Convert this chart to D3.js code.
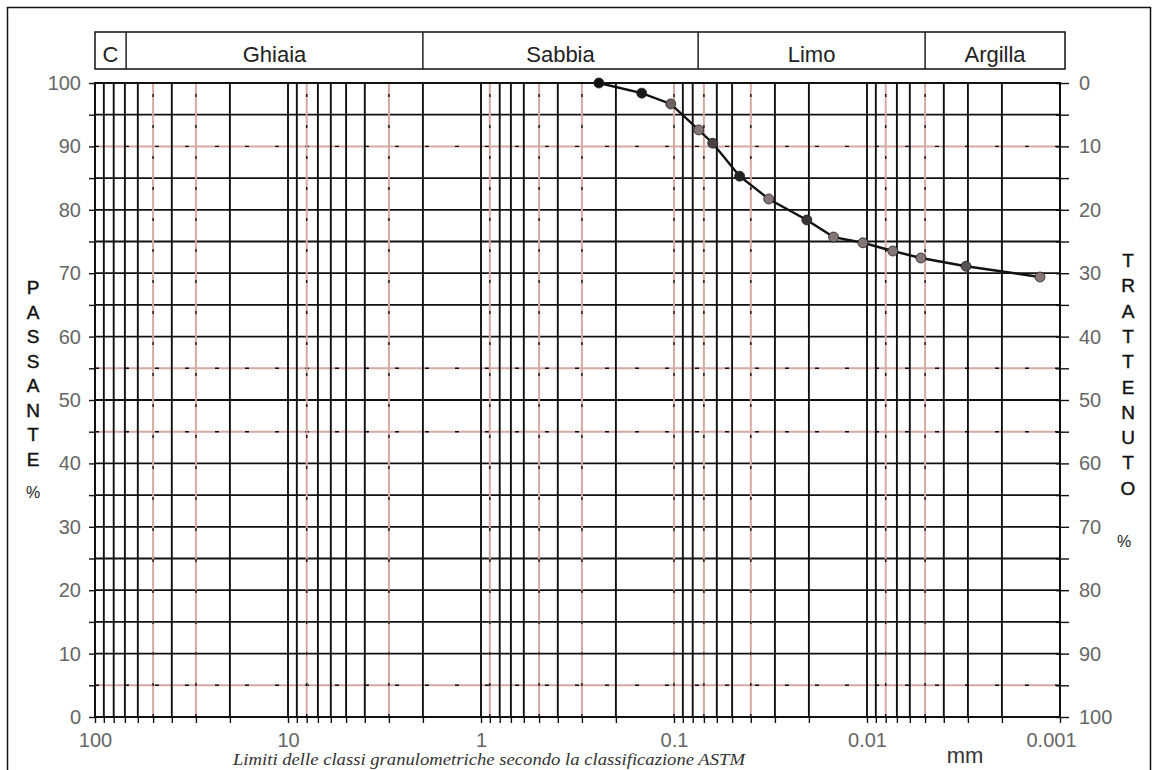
<!DOCTYPE html>
<html><head><meta charset="utf-8">
<script src="https://cdn.jsdelivr.net/npm/d3@7"></script>
<style>
body{margin:0;background:#fff}
svg{display:block}
text{font-family:"Liberation Sans",Arial,sans-serif}
</style>
</head><body>
<svg id="c" width="1154" height="770"></svg>
<script>
// ---- data ----
const diameters = [0.245, 0.147, 0.104, 0.0745, 0.063, 0.0457, 0.0323, 0.0205, 0.0149, 0.0105, 0.00735, 0.00526, 0.00307, 0.00127];
const passing   = [100, 98.4, 96.7, 92.6, 90.5, 85.3, 81.7, 78.4, 75.7, 74.8, 73.5, 72.4, 71.1, 69.4];
const xTickValues = [100, 10, 1, 0.1, 0.01, 0.001];
const xTickLabels = ["100", "10", "1", "0.1", "0.01", "0.001"];
const yTickValues = [0, 10, 20, 30, 40, 50, 60, 70, 80, 90, 100];
const classNames  = ["C", "Ghiaia", "Sabbia", "Limo", "Argilla"];
const classBounds = [100, 69, 2, 0.075, 0.005, 0.001];
const redGridX = [50, 30, 8, 3, 0.9, 0.5, 0.3, 0.1, 0.07, 0.04, 0.008, 0.005, 0.0025];
const redGridY = [90, 55, 45, 5];
const leftTitle  = "PASSANTE";
const rightTitle = "TRATTENUTO";
const caption = "Limiti delle classi granulometriche secondo la classificazione ASTM";
const markerFills = ["#111","#1a1a1a","#6f6262","#857575","#4a4040","#222","#857575","#3a3333","#857575","#857575","#857575","#857575","#5a5050","#857575"];

// ---- chart ----
const svg = d3.select("#c");
const x = d3.scaleLog().domain([100, 0.001]).range([95, 1060]);
const y = d3.scaleLinear().domain([0, 100]).range([717, 83]);
const yR = d3.scaleLinear().domain([0, 100]).range([83, 717]);
const ink = "#111";
const redInk = "#d6aaa3";

// outer frame
svg.append("rect").attr("x", 7.5).attr("y", 7.5).attr("width", 1143).attr("height", 820)
  .attr("fill", "none").attr("stroke", ink).attr("stroke-width", 1.5);

// grid values (log minor grid)
const gridVals = [];
for (let e = 1; e >= -3; e--) for (let m = 1; m <= 9; m++) gridVals.push(+(m * Math.pow(10, e)).toPrecision(3));
const isRed = v => redGridX.some(r => Math.abs(Math.log10(r) - Math.log10(v)) < 1e-6);
const inner = gridVals.filter(v => v < 100 && v > 0.001);

const g = svg.append("g");
// horizontal grid
const hVals = d3.range(5, 100, 5);
g.selectAll("line.h").data(hVals).join("line")
  .attr("x1", x(100)).attr("x2", x(0.001))
  .attr("y1", d => y(d)).attr("y2", d => y(d))
  .attr("stroke", d => redGridY.includes(d) ? redInk : ink)
  .attr("stroke-width", d => redGridY.includes(d) ? 2 : 1.8);
g.selectAll("line.hd").data(hVals.filter(d => redGridY.includes(d))).join("line")
  .attr("x1", x(100)).attr("x2", x(0.001))
  .attr("y1", d => y(d)).attr("y2", d => y(d))
  .attr("stroke", ink).attr("stroke-width", 1.4).attr("stroke-dasharray", "4,26");

// vertical grid
g.selectAll("line.v").data(inner).join("line")
  .attr("x1", d => x(d)).attr("x2", d => x(d))
  .attr("y1", y(0)).attr("y2", y(100))
  .attr("stroke", d => isRed(d) ? redInk : ink)
  .attr("stroke-width", d => isRed(d) ? 2 : 1.9);
g.selectAll("line.vd").data(inner.filter(isRed)).join("line")
  .attr("x1", d => x(d)).attr("x2", d => x(d))
  .attr("y1", y(0)).attr("y2", y(100))
  .attr("stroke", ink).attr("stroke-width", 1.4).attr("stroke-dasharray", "3,28");

// plot border
svg.append("rect").attr("x", x(100)).attr("y", y(100))
  .attr("width", x(0.001) - x(100)).attr("height", y(0) - y(100))
  .attr("fill", "none").attr("stroke", ink).attr("stroke-width", 2);

// left axis
const la = svg.append("g").attr("transform", `translate(${x(100)},0)`)
  .call(d3.axisLeft(y).tickValues(d3.range(0, 101, 5)).tickSize(6).tickPadding(8)
    .tickFormat(d => yTickValues.includes(d) ? d : ""));
la.select(".domain").remove();
la.selectAll("line").attr("stroke", ink).attr("stroke-width", 1.4);
la.selectAll("text").attr("font-size", 20).attr("fill", "#666").style("font-family", "Liberation Sans, Arial");

// right axis
const ra = svg.append("g").attr("transform", `translate(${x(0.001)},0)`)
  .call(d3.axisRight(yR).tickValues(d3.range(0, 101, 5)).tickSize(9).tickPadding(10)
    .tickFormat(d => yTickValues.includes(d) ? d : ""));
ra.select(".domain").remove();
ra.selectAll("line").attr("x1", -4).attr("stroke", ink).attr("stroke-width", 1.4);
ra.selectAll("text").attr("font-size", 20).attr("fill", "#666").style("font-family", "Liberation Sans, Arial");

// bottom axis
const labelOf = d => { const i = xTickValues.findIndex(v => Math.abs(Math.log10(v) - Math.log10(d)) < 1e-6); return i >= 0 ? xTickLabels[i] : ""; };
const ba = svg.append("g").attr("transform", `translate(0,${y(0)})`)
  .call(d3.axisBottom(x).tickValues(gridVals.filter(v => v <= 100 && v >= 0.001).concat([100])).tickSize(6).tickPadding(10)
    .tickFormat(labelOf));
ba.select(".domain").remove();
ba.selectAll("line").attr("stroke", ink).attr("stroke-width", 1.4);
ba.selectAll("text").attr("font-size", 20).attr("fill", "#666").style("font-family", "Liberation Sans, Arial")
  .attr("dx", d => d === 0.001 ? -9 : 0);

// curve
const pts = diameters.map((d, i) => [d, passing[i]]);
svg.append("path").datum(pts)
  .attr("d", d3.line().x(d => x(d[0])).y(d => y(d[1])))
  .attr("fill", "none").attr("stroke", ink).attr("stroke-width", 2.4);
svg.selectAll("circle.m").data(pts).join("circle")
  .attr("cx", d => x(d[0])).attr("cy", d => y(d[1])).attr("r", 5)
  .attr("fill", (d, i) => markerFills[i]).attr("stroke", "#222").attr("stroke-width", 0.8);

// header band
const hb = svg.append("g");
const hx0 = x(100), hx1 = x(0.001) + 5, hy0 = 32, hy1 = 69;
hb.append("rect").attr("x", hx0).attr("y", hy0).attr("width", hx1 - hx0).attr("height", hy1 - hy0)
  .attr("fill", "#fff").attr("stroke", ink).attr("stroke-width", 1.5);
const cells = classNames.map((n, i) => ({ n, a: x(classBounds[i]), b: i === classNames.length - 1 ? hx1 : x(classBounds[i + 1]) }));
hb.selectAll("line.div").data(cells.slice(1)).join("line")
  .attr("x1", d => d.a).attr("x2", d => d.a).attr("y1", hy0).attr("y2", hy1)
  .attr("stroke", ink).attr("stroke-width", 1.4);
hb.selectAll("text").data(cells).join("text")
  .attr("x", d => (d.a + d.b) / 2).attr("y", 62).attr("text-anchor", "middle")
  .attr("font-size", 22).attr("fill", "#222").text(d => d.n);

// vertical titles
svg.selectAll("text.lt").data(leftTitle.split("")).join("text")
  .attr("x", 33).attr("y", (d, i) => 294 + i * 24.5).attr("text-anchor", "middle")
  .attr("font-size", 19).attr("fill", "#111").attr("stroke", "#111").attr("stroke-width", 0.4).text(d => d);
svg.append("text").attr("x", 33).attr("y", 498).attr("text-anchor", "middle")
  .attr("font-size", 16).attr("fill", "#222").text("%");
svg.selectAll("text.rt").data(rightTitle.split("")).join("text")
  .attr("x", 1128).attr("y", (d, i) => 267 + i * 25.3).attr("text-anchor", "middle")
  .attr("font-size", 19).attr("fill", "#111").attr("stroke", "#111").attr("stroke-width", 0.4).text(d => d);
svg.append("text").attr("x", 1124).attr("y", 547).attr("text-anchor", "middle")
  .attr("font-size", 16).attr("fill", "#222").text("%");

// unit and caption
svg.append("text").attr("x", 965).attr("y", 763).attr("text-anchor", "middle")
  .attr("font-size", 22).attr("fill", "#333").text("mm");
svg.append("text").attr("x", 233).attr("y", 765)
  .attr("textLength", 512).attr("lengthAdjust", "spacingAndGlyphs")
  .style("font-family", "Liberation Serif, Times New Roman, serif").attr("font-style", "italic")
  .attr("font-size", 16).attr("fill", "#333").text(caption);
</script>
</body></html>
